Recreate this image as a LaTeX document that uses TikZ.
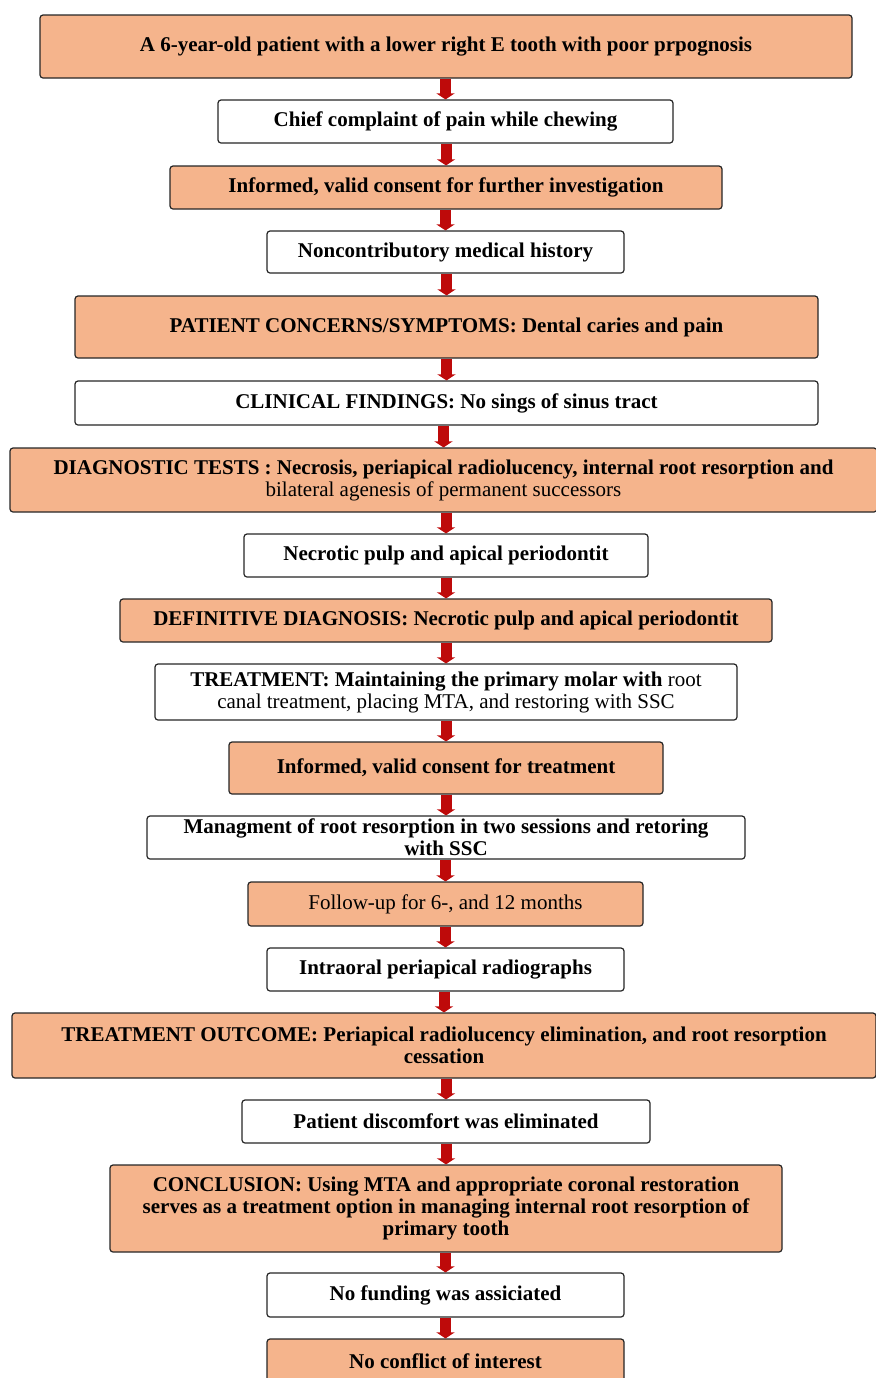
\documentclass[tikz,border=0pt]{standalone}
\usepackage{fontspec}
\setmainfont{Liberation Serif}
\usetikzlibrary{arrows.meta}
\definecolor{peach}{RGB}{245,180,140}
\definecolor{darkred}{RGB}{190,10,10}

\begin{document}
\begin{tikzpicture}[x=0.5pt,y=-0.5pt,
        box/.style={draw=black!85, line width=0.6pt, rounded corners=1.5pt, inner sep=0pt, align=center,
        font=\bfseries\fontsize{10.5}{11}\selectfont},
        orangebox/.style={box, fill=peach},
        whitebox/.style={box, fill=white},
        link/.style={draw=darkred, line width=5.5pt, -{Triangle[width=9pt,length=3pt]}}]
        \useasboundingbox (0,0) rectangle (876,1378);
        \node[orangebox, minimum width=406pt, minimum height=31.5pt] (age) at (446,46.5) {A 6-year-old patient with a lower right E tooth with poor prpognosis};
        \node[whitebox, minimum width=227.5pt, minimum height=21.5pt] (chief) at (445.5,121.5) {Chief complaint of pain while chewing};
        \node[orangebox, minimum width=276pt, minimum height=21.5pt] (consent1) at (446,187.5) {Informed, valid consent for further investigation};
        \node[whitebox, minimum width=178.5pt, minimum height=21pt] (history) at (445.5,252) {Noncontributory medical history};
        \node[orangebox, minimum width=371.5pt, minimum height=31pt] (concerns) at (446.5,327) {PATIENT CONCERNS/SYMPTOMS: Dental caries and pain};
        \node[whitebox, minimum width=371.5pt, minimum height=22pt] (clinical) at (446.5,403) {CLINICAL FINDINGS: No sings of sinus tract};
        \node[orangebox, minimum width=433.5pt, minimum height=32pt] (tests) at (443.5,480) {DIAGNOSTIC TESTS : Necrosis, periapical radiolucency, internal root resorption and\\ \mdseries bilateral agenesis of permanent successors};
        \node[whitebox, minimum width=202pt, minimum height=21.5pt] (pulp) at (446,555.5) {Necrotic pulp and apical periodontit};
        \node[orangebox, minimum width=326pt, minimum height=21.5pt] (diagnosis) at (446,620.5) {DEFINITIVE DIAGNOSIS: Necrotic pulp and apical periodontit};
        \node[whitebox, minimum width=291pt, minimum height=28pt] (treatment) at (446,692) {TREATMENT: Maintaining the primary molar with \mdseries root\\ \mdseries canal treatment, placing MTA, and restoring with SSC};
        \node[orangebox, minimum width=217pt, minimum height=26pt] (consent2) at (446,768) {Informed, valid consent for treatment};
        \node[whitebox, minimum width=299pt, minimum height=21.5pt] (managment) at (446,837.5) {Managment of root resorption in two sessions and retoring\\ with SSC};
        \node[orangebox, minimum width=197.5pt, minimum height=22pt, font=\mdseries\fontsize{10.5}{11}\selectfont] (followup) at (445.5,904) {Follow-up for 6-, and 12 months};
        \node[whitebox, minimum width=178.5pt, minimum height=21.5pt] (radio) at (445.5,969.5) {Intraoral periapical radiographs};
        \node[orangebox, minimum width=432pt, minimum height=32.5pt] (outcome) at (444,1045.5) {TREATMENT OUTCOME: Periapical radiolucency elimination, and root resorption\\ cessation};
        \node[whitebox, minimum width=204pt, minimum height=21.5pt] (discomfort) at (446,1121.5) {Patient discomfort was eliminated};
        \node[orangebox, minimum width=336pt, minimum height=43.5pt] (conclusion) at (446,1208.5) {CONCLUSION: Using MTA and appropriate coronal restoration\\ serves as a treatment option in managing internal root resorption of\\ primary tooth};
        \node[whitebox, minimum width=178.5pt, minimum height=22pt] (funding) at (445.5,1295) {No funding was assiciated};
        \node[orangebox, minimum width=178.5pt, minimum height=22pt] (conflict) at (445.5,1361) {No conflict of interest};
        % red links down the chain, kept vertical
        \foreach \a/\b in {age/chief,chief/consent1,consent1/history,history/concerns,concerns/clinical,
            clinical/tests,tests/pulp,pulp/diagnosis,diagnosis/treatment,treatment/consent2,consent2/managment,
            managment/followup,followup/radio,radio/outcome,outcome/discomfort,discomfort/conclusion,
            conclusion/funding,funding/conflict}
            \draw[link] (\b.north |- \a.south) -- (\b.north);
    \end{tikzpicture}
\end{document}
